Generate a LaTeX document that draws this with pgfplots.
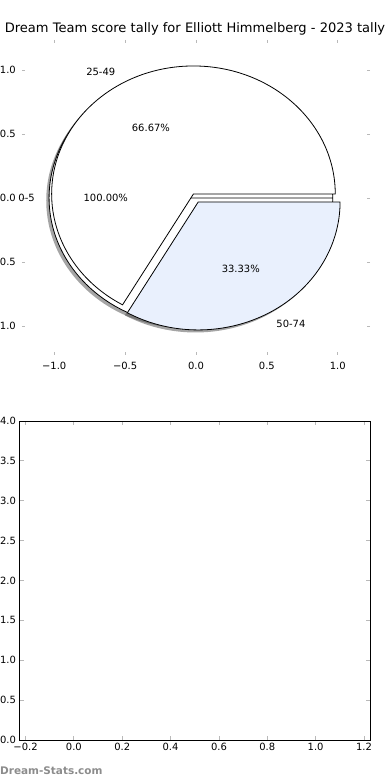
\documentclass[border=0pt]{standalone}
\usepackage{fontspec}
\setmainfont{DejaVu Sans}
\usepackage{pgfplots}
\pgfplotsset{compat=1.18}
\definecolor{wedgeblue}{RGB}{233,240,253}
\definecolor{tickgray}{RGB}{185,185,185}
\definecolor{markgray}{RGB}{140,140,140}
\begin{document}
\begin{tikzpicture}
\useasboundingbox (0bp,0bp) rectangle (390bp,780bp);
% ---------- pie axis ----------
\begin{axis}[
  at={(22bp,425bp)}, anchor=south west, scale only axis,
  width=348bp, height=315bp,
  xmin=-1.227, xmax=1.227, ymin=-1.227, ymax=1.234,
  axis line style={draw=none},
  tick align=inside, major tick length=3bp,
  tick style={tickgray, line width=0.8bp},
  xtick={-1,-0.5,0,0.5,1}, xticklabels={−1.0,−0.5,0.0,0.5,1.0},
  ytick={-1,-0.5,0,0.5,1}, yticklabels={−1.0,−0.5,0.0,0.5,1.0},
  tick label style={font=\fontsize{10}{12}\selectfont},
  xticklabel style={yshift=-4bp},
  yticklabel style={xshift=-2.7bp},
  clip=false,
]
% shadows (offset -0.02,-0.02), drawn beneath all wedges
\fill[black!70, opacity=0.5] (axis cs:-0.056,-0.02) -- (axis cs:0.944,-0.02) arc[start angle=0, end angle=360, radius=1] -- cycle;
\fill[black!70, opacity=0.5] (axis cs:-0.038,0.011) -- (axis cs:0.962,0.011) arc[start angle=0, end angle=240, radius=1] -- cycle;
\fill[black!70, opacity=0.5] (axis cs:-0.002,-0.051) -- (axis cs:-0.502,-0.917) arc[start angle=240, end angle=360, radius=1] -- cycle;
% wedges: 0-5 (100%), 25-49 (66.67%), 50-74 (33.33%)
\draw[fill=white, line width=0.8bp] (axis cs:-0.036,0) -- (axis cs:0.964,0) arc[start angle=0, end angle=360, radius=1] -- cycle;
\draw[fill=white, line width=0.8bp] (axis cs:-0.018,0.031) -- (axis cs:0.982,0.031) arc[start angle=0, end angle=240, radius=1] -- cycle;
\draw[fill=wedgeblue, line width=0.8bp] (axis cs:0.016,-0.031) -- (axis cs:-0.484,-0.897) arc[start angle=240, end angle=360, radius=1] -- cycle;
\begin{scope}[every node/.style={font=\fontsize{10}{12}\selectfont, inner sep=0pt}]
\node[anchor=east] at (axis cs:-1.136,0) {0-5};
\node at (axis cs:-0.636,0) {100.00\%};
\node[anchor=east] at (axis cs:-0.568,0.984) {25-49};
\node at (axis cs:-0.318,0.551) {66.67\%};
\node[anchor=west] at (axis cs:0.566,-0.984) {50-74};
\node at (axis cs:0.316,-0.551) {33.33\%};
\end{scope}
\end{axis}
% ---------- empty axis ----------
\begin{axis}[
  at={(19.5bp,40bp)}, anchor=south west, scale only axis,
  width=350.5bp, height=319bp,
  xmin=-0.225, xmax=1.225, ymin=0, ymax=4,
  axis line style={black, line width=0.8bp},
  tick align=inside, major tick length=4bp,
  tick style={tickgray, line width=0.8bp},
  xtick={-0.2,0,0.2,0.4,0.6,0.8,1.0,1.2},
  xticklabels={−0.2,0.0,0.2,0.4,0.6,0.8,1.0,1.2},
  ytick={0,0.5,1,1.5,2,2.5,3,3.5,4},
  yticklabels={0.0,0.5,1.0,1.5,2.0,2.5,3.0,3.5,4.0},
  tick label style={font=\fontsize{10}{12}\selectfont},
]
\addplot[draw=none] coordinates {(0,0)};
\end{axis}
\node[anchor=base, inner sep=0pt, font=\fontsize{13.1}{15}\selectfont] at (195bp,747bp) {Dream Team score tally for Elliott Himmelberg - 2023 tally};
\node[anchor=base west, inner sep=0pt, text=markgray, font=\bfseries\fontsize{10.5}{12}\selectfont] at (0bp,6bp) {Dream-Stats.com};
\end{tikzpicture}
\end{document}
